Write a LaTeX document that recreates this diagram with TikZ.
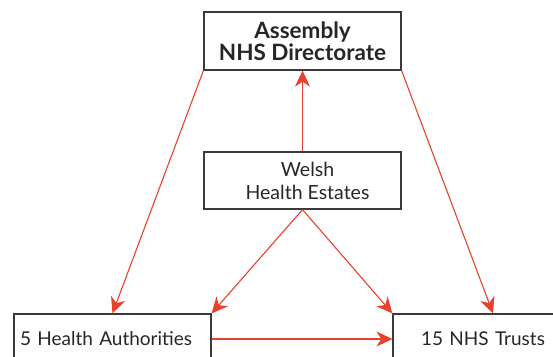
\documentclass[tikz,border=0pt]{standalone}
\usepackage{fontspec}
\setmainfont{Lato}
\usetikzlibrary{arrows.meta}
\definecolor{arrred}{HTML}{E8412C}
\definecolor{boxgray}{HTML}{3A3A3A}
\tikzset{
  box/.style={draw=boxgray, line width=1.2pt, rectangle, inner sep=0pt, font=\fontsize{19}{23}\selectfont, text=black!85},
  conn/.style={draw=arrred, line width=1.1pt, -{Stealth[length=16pt,width=15pt,inset=5pt]}}
}
\begin{document}
\begin{tikzpicture}[x=1pt,y=-1pt]
\useasboundingbox (0,0) rectangle (553,356);
\clip (0,0) rectangle (553,356);
\node[box, minimum width=197pt, minimum height=58pt, align=center, font=\bfseries\fontsize{22.5}{22}\selectfont] (top) at (302.5,41) {Assembly\\NHS Directorate};
\node[box, minimum width=197pt, minimum height=57pt, align=center, font=\fontsize{19.5}{23}\selectfont] (mid) at (302.5,180.5) {\hspace*{10pt}Welsh\\\hspace*{10pt}Health Estates};
\node[box, minimum width=197pt, minimum height=50pt, text width=185pt, align=left, inner xsep=6pt] (ha) at (112.5,339) {5 Health Authorities};
\node[box, minimum width=200pt, minimum height=50pt, text width=172pt, align=left, inner xsep=0pt] (tr) at (493,339) {\hspace*{14pt}15 NHS Trusts};
\draw[conn] (mid.north) -- (top.south);
\draw[conn] (top.south west) -- (ha.north);
\draw[conn] (top.south east) -- (tr.north);
\draw[conn] (mid.south) -- (ha.north east);
\draw[conn] (mid.south) -- (tr.north west);
\draw[conn] (ha.east) -- (tr.west);
\end{tikzpicture}
\end{document}
